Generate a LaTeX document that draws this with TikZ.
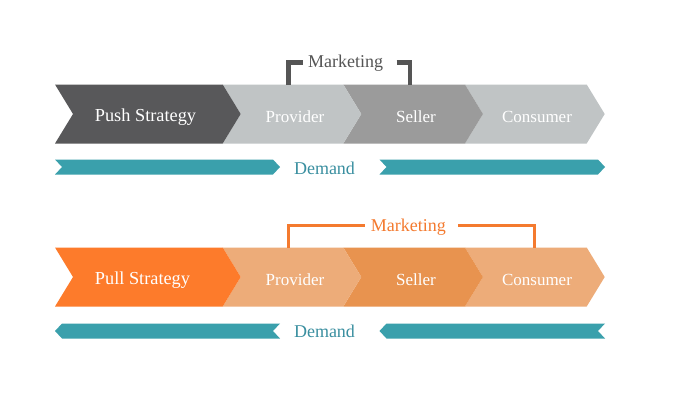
\documentclass[tikz,border=0pt]{standalone}
\usepackage{fontspec}
\setmainfont{Liberation Serif}
\definecolor{pushdark}{HTML}{58585A}
\definecolor{lightgray}{HTML}{C0C4C5}
\definecolor{midgray}{HTML}{9B9B9B}
\definecolor{pullorange}{HTML}{FD7B2B}
\definecolor{lightorange}{HTML}{EDAC79}
\definecolor{midorange}{HTML}{E8934F}
\definecolor{teal}{HTML}{3AA0AC}
\definecolor{demandtext}{HTML}{3A8FA0}
\definecolor{mktgray}{HTML}{555555}
\definecolor{mktorange}{HTML}{F47A2F}
\newcommand{\mychev}[4]{\fill[#4] (#1,#3-29.5) -- (#2,#3-29.5) -- (#2+18,#3) -- (#2,#3+29.5) -- (#1,#3+29.5) -- (#1+18,#3) -- cycle;}
\tikzset{
  steplabel/.style={text=white, font=\fontsize{17}{20}\selectfont, inner sep=0pt, anchor=base},
  stratlabel/.style={text=white, font=\fontsize{18.3}{21}\selectfont, inner sep=0pt, anchor=base},
  demandlabel/.style={text=demandtext, font=\fontsize{18}{21}\selectfont, inner sep=0pt, anchor=base},
  mktlabel/.style={font=\fontsize{18}{21}\selectfont, inner sep=0pt, anchor=base},
  bar/.style={fill=teal},
}
\begin{document}
\begin{tikzpicture}[x=1pt,y=-1pt]
\useasboundingbox (0,0) rectangle (680,410);
\fill[white] (0,0) rectangle (680,410);
% ---------- Push row ----------
\mychev{465}{586.7}{114}{lightgray}
\mychev{343.3}{465}{114}{midgray}
\mychev{222.7}{343.3}{114}{lightgray}
\mychev{55}{222.7}{114}{pushdark}
\node[stratlabel] (push) at (145.5,121) {Push Strategy};
\node[steplabel] (prov1) at (295,122.5) {Provider};
\node[steplabel] (sell1) at (416,122.5) {Seller};
\node[steplabel] (cons1) at (537,122.5) {Consumer};
% marketing bracket (push)
\node[mktlabel,text=mktgray] (mkt1) at (345.7,67.3) {Marketing};
\coordinate (m1a) at (288.3,84.5);
\coordinate (m1b) at (303,62.3);
\coordinate (m1c) at (396.7,62.3);
\coordinate (m1d) at (410,84.5);
\draw[mktgray,line width=4.5pt] (m1a) |- (m1b);
\draw[mktgray,line width=4.5pt] (m1c) -| (m1d);
% demand bars (push)
\fill[bar] (55,159.5) -- (273,159.5) -- (280,167) -- (273,174.5) -- (55,174.5) -- (62,167) -- cycle;
\fill[bar] (379.5,159.5) -- (598,159.5) -- (605,167) -- (598,174.5) -- (379.5,174.5) -- (386.5,167) -- cycle;
\node[demandlabel] (dem1) at (324.5,174) {Demand};
% ---------- Pull row ----------
\mychev{465}{586.7}{277}{lightorange}
\mychev{343.3}{465}{277}{midorange}
\mychev{222.7}{343.3}{277}{lightorange}
\mychev{55}{222.7}{277}{pullorange}
\node[stratlabel] (pull) at (142.5,284.5) {Pull Strategy};
\node[steplabel] (prov2) at (295,285) {Provider};
\node[steplabel] (sell2) at (416,285) {Seller};
\node[steplabel] (cons2) at (537,285) {Consumer};
% marketing bracket (pull)
\node[mktlabel,text=mktorange] (mkt2) at (408.3,231) {Marketing};
\coordinate (m2a) at (288.3,247.5);
\coordinate (m2b) at (365,225.7);
\coordinate (m2c) at (458.3,225.7);
\coordinate (m2d) at (534.3,247.5);
\draw[mktorange,line width=3.3pt] (m2a) |- (m2b);
\draw[mktorange,line width=3.3pt] (m2c) -| (m2d);
% demand bars (pull)
\fill[bar] (62,323.5) -- (280,323.5) -- (273,331) -- (280,338.5) -- (62,338.5) -- (55,331) -- cycle;
\fill[bar] (386.5,323.5) -- (605,323.5) -- (598,331) -- (605,338.5) -- (386.5,338.5) -- (379.5,331) -- cycle;
\node[demandlabel] (dem2) at (324.5,337.5) {Demand};
\end{tikzpicture}
\end{document}
